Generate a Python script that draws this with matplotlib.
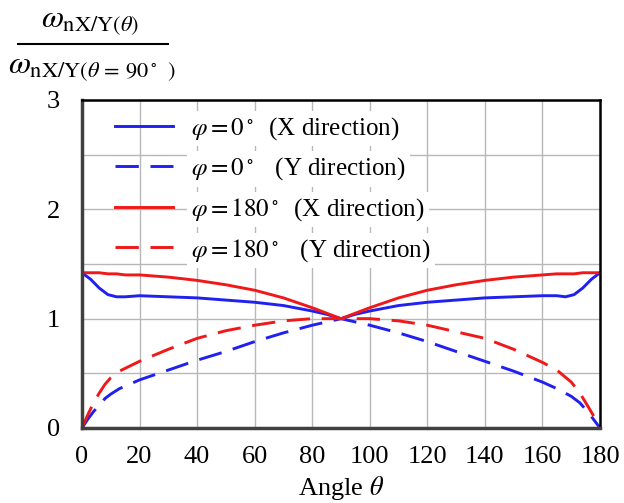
import numpy as np
import matplotlib
matplotlib.use("Agg")
import matplotlib.pyplot as plt

plt.rcParams['font.family'] = ['Liberation Serif', 'DejaVu Serif']
plt.rcParams['mathtext.fontset'] = 'stix'

# angle theta (deg)
theta = [0, 3, 6, 9, 12, 15, 20, 30, 40, 50, 60, 70, 80, 85, 90,
         95, 100, 110, 120, 130, 140, 150, 160, 165, 168, 171, 174, 177, 180]

# phi = 0, X direction
x0 = [1.42, 1.36, 1.28, 1.22, 1.20, 1.20, 1.21, 1.20, 1.19, 1.17, 1.15, 1.12, 1.07, 1.04, 1.00,
      1.04, 1.07, 1.12, 1.15, 1.17, 1.19, 1.20, 1.21, 1.21, 1.20, 1.22, 1.28, 1.36, 1.42]
# phi = 180, X direction
x180 = [1.42, 1.42, 1.42, 1.41, 1.41, 1.40, 1.40, 1.38, 1.35, 1.31, 1.26, 1.19, 1.10, 1.05, 1.00,
        1.05, 1.10, 1.19, 1.26, 1.31, 1.35, 1.38, 1.40, 1.41, 1.41, 1.41, 1.42, 1.42, 1.42]

theta_y = [0, 2, 4, 6, 8, 10, 13, 20, 30, 40, 50, 60, 70, 80, 85, 90,
           95, 100, 110, 120, 130, 140, 150, 160, 165, 170, 173, 176, 178, 180]
# phi = 0, Y direction
y0 = [0.00, 0.08, 0.15, 0.21, 0.27, 0.31, 0.36, 0.44, 0.53, 0.62, 0.70, 0.79, 0.87, 0.94, 0.97, 1.00,
      0.97, 0.94, 0.87, 0.79, 0.70, 0.61, 0.52, 0.42, 0.36, 0.29, 0.23, 0.14, 0.07, 0.00]
# phi = 180, Y direction
y180 = [0.00, 0.12, 0.23, 0.32, 0.40, 0.46, 0.52, 0.61, 0.72, 0.82, 0.89, 0.94, 0.98, 1.00, 1.00, 1.00,
        1.00, 1.00, 0.98, 0.94, 0.88, 0.82, 0.72, 0.60, 0.53, 0.42, 0.32, 0.19, 0.10, 0.00]

labels = [r"$\varphi = 0^\circ$  (X direction)",
          r"$\varphi = 0^\circ$   (Y direction)",
          r"$\varphi = 180^\circ$  (X direction)",
          r"$\varphi = 180^\circ$   (Y direction)"]

blue = "#2020f0"
red = "#f01818"

fig = plt.figure(figsize=(6.24, 5.03), dpi=100)
ax = fig.add_axes([82 / 624, 75 / 503, 518 / 624, 328 / 503])

lw = 2.1
ax.plot(theta, x0, color=blue, lw=lw, label=labels[0])
ax.plot(theta_y, y0, color=blue, lw=lw, dashes=(8, 4), label=labels[1])
ax.plot(theta, x180, color=red, lw=lw, label=labels[2])
ax.plot(theta_y, y180, color=red, lw=lw, dashes=(8, 4), label=labels[3])

ax.set_xlim(0, 180)
ax.set_ylim(0, 3)
ax.set_xticks(np.arange(0, 181, 20))
ax.set_yticks([0, 1, 2, 3])
ax.set_yticks([0.5, 1.5, 2.5], minor=True)
ax.grid(True, which="both", color="#b8b8b8", lw=1.0)
ax.tick_params(which="both", length=0, labelsize=19, pad=13)
ax.tick_params(axis="y", pad=16)

for s in ["left", "bottom"]:
    ax.spines[s].set_linewidth(2.5)
    ax.spines[s].set_color("#404040")
for s in ["top", "right"]:
    ax.spines[s].set_linewidth(1.8)
    ax.spines[s].set_color("black")

# x label placed just under the tick labels
fig.text(341 / 624, 1 - 495 / 503, r"Angle $\theta$", fontsize=19,
         ha="center", va="baseline")

leg = ax.legend(loc="upper left", bbox_to_anchor=(33 / 518, (428 - 115) / 328),
                fontsize=18, frameon=False, handlelength=2.3, borderaxespad=0,
                borderpad=0, labelspacing=0.55, handletextpad=0.75)
for t in leg.get_texts():
    t.set_bbox(dict(facecolor="white", edgecolor="none", pad=3))

# y-axis label as a fraction at the top-left
fig.text(90 / 624, 1 - 22 / 503, r"$\omega_{\mathrm{nX/Y}(\theta)}$", fontsize=23,
         ha="center", va="center")
fig.add_artist(plt.Line2D([18 / 624, 168 / 624], [1 - 44 / 503, 1 - 44 / 503],
                          color="black", lw=1.5))
fig.text(92 / 624, 1 - 68 / 503, r"$\omega_{\mathrm{nX/Y}(\theta\,=\,90^\circ\;\;)}$", fontsize=23,
         ha="center", va="center")

fig.savefig("out.png", dpi=100)
